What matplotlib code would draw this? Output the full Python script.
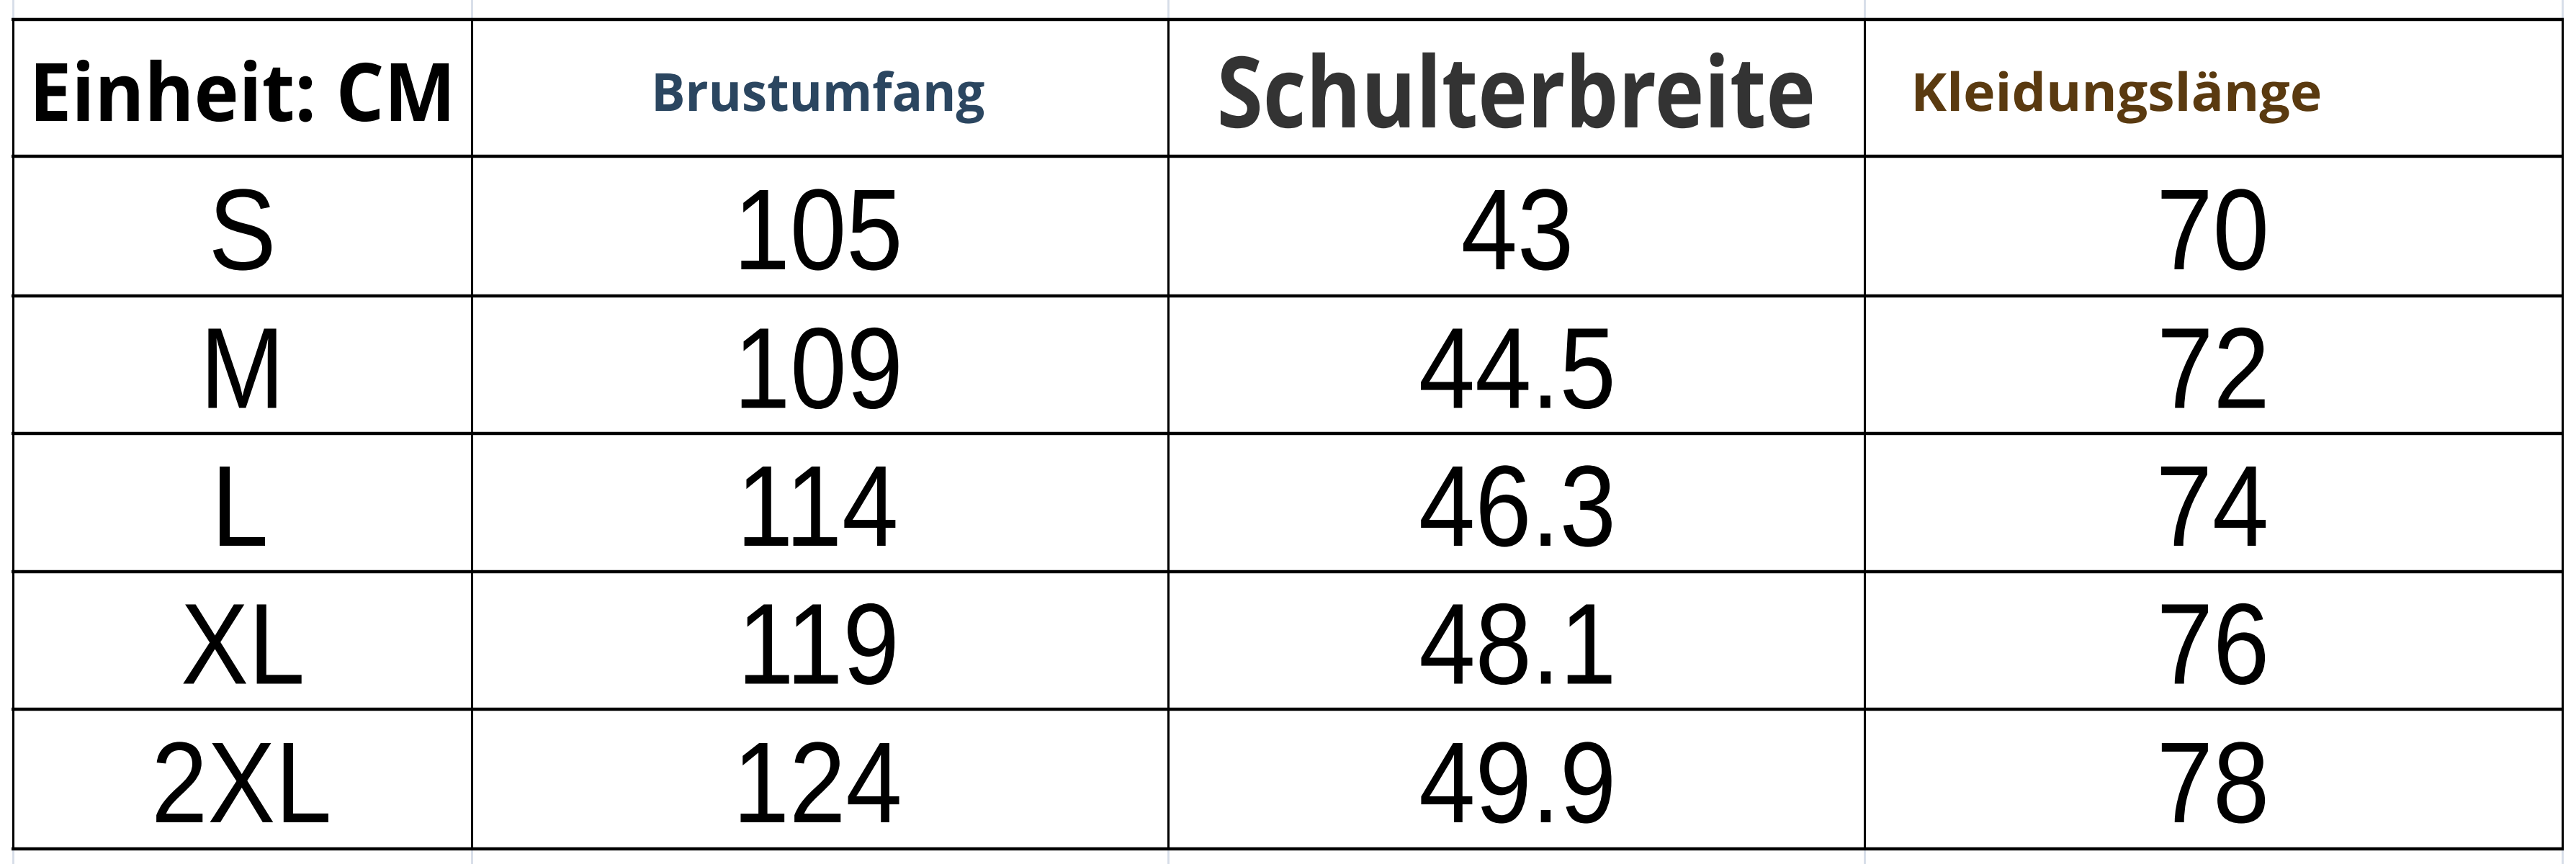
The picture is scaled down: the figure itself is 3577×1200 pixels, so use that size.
import matplotlib.pyplot as plt
from matplotlib.textpath import TextPath
from matplotlib.patches import PathPatch
from matplotlib.font_manager import FontProperties
from matplotlib.transforms import Affine2D

headers = ['Einheit: CM', 'Brustumfang', 'Schulterbreite', 'Kleidungslänge']
sizes = ['S', 'M', 'L', 'XL', '2XL']
brust = ['105', '109', '114', '119', '124']
schulter = ['43', '44.5', '46.3', '48.1', '49.9']
laenge = ['70', '72', '74', '76', '78']

W, H = 3577, 1200
col_x = [18, 655, 1622, 2589, 3558]
row_y = [27, 217, 411, 602, 794, 985, 1179]

fig = plt.figure(figsize=(W / 100, H / 100), dpi=100)
ax = fig.add_axes([0, 0, 1, 1])
ax.set_xlim(0, W)
ax.set_ylim(H, 0)
ax.axis('off')

body_font = FontProperties(family='Liberation Sans')
head_font = FontProperties(family='Open Sans', weight='bold')


def draw_text(s, cx, cy, em, font, color, width=None, squeeze=1.0, left=None):
    cap = TextPath((0, 0), 'H', size=em, prop=font).get_extents()
    p = TextPath((0, 0), s, size=em, prop=font)
    ext = p.get_extents()
    sx = squeeze if width is None else width / ext.width
    x0 = ext.x0 * sx
    w = ext.width * sx
    tx = (cx - w / 2 - x0) if left is None else (left - x0)
    ty = cy + (cap.y0 + cap.y1) / 2
    tr = Affine2D().scale(sx, -1).translate(tx, ty)
    ax.add_patch(PathPatch(tr.transform_path(p), fc=color, ec='none', lw=0))


# faint spreadsheet grid outside the table
for x in col_x:
    ax.plot([x, x], [0, row_y[0]], color='#d6dde8', lw=2)
    ax.plot([x, x], [row_y[-1], H], color='#d6dde8', lw=2)

# table borders
for y in row_y:
    ax.plot([col_x[0] - 2, col_x[-1] + 2], [y, y], color='black', lw=3.2, solid_capstyle='butt')
for x in col_x:
    ax.plot([x, x], [row_y[0], row_y[-1]], color='black', lw=2.2, solid_capstyle='butt')

centers = [(col_x[i] + col_x[i + 1]) / 2 for i in range(4)]
hy = (row_y[0] + row_y[1]) / 2 + 6

draw_text(headers[0], centers[0], hy, 112, head_font, 'black', width=573)
draw_text(headers[1], centers[1], hy, 73, head_font, '#2b4660', width=456)
draw_text(headers[2], centers[2], hy, 137, head_font, '#333333', width=821)
draw_text(headers[3], 0, hy, 73, head_font, '#5a3a10', width=561, left=2660)

for r in range(5):
    cy = (row_y[r + 1] + row_y[r + 2]) / 2 + 5
    for c, val in enumerate([sizes[r], brust[r], schulter[r], laenge[r]]):
        draw_text(val, centers[c], cy, 160, body_font, 'black', squeeze=0.88)

fig.savefig('out.png', dpi=100, facecolor='white')
